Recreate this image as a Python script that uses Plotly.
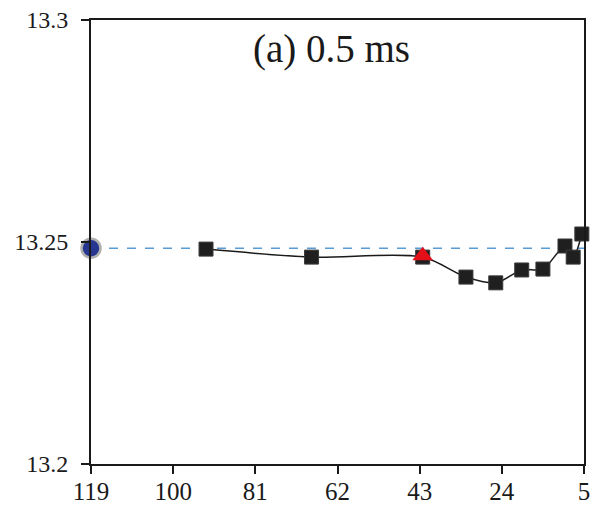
import plotly.graph_objects as go

# data
x_vals = [92.4, 68, 42.3, 32.3, 25.4, 19.4, 14.5, 9.4, 7.5, 5.5]
y_vals = [13.2484, 13.2466, 13.2466, 13.2421, 13.2408, 13.2437, 13.2439, 13.2491, 13.2466, 13.2518]
ref_x = 119
ref_y = 13.2486
hl_x = [42.3]
hl_y = [13.2469]
x_ticks = [119, 100, 81, 62, 43, 24, 5]
y_ticks = [13.2, 13.25, 13.3]
y_tick_text = ["13.2", "13.25", "13.3"]
title_text = "(a) 0.5 ms"

FONT = "Liberation Serif"
fig = go.Figure()

fig.add_trace(go.Scatter(
    x=[x_ticks[0], x_ticks[-1]], y=[ref_y, ref_y], mode="lines",
    line=dict(color="#5B9BD5", width=1.5, dash="dash"),
    hoverinfo="skip", showlegend=False, cliponaxis=False))

fig.add_trace(go.Scatter(
    x=x_vals, y=y_vals, mode="lines+markers",
    line=dict(color="#1a1a1a", width=1.5, shape="spline", smoothing=0.8),
    marker=dict(symbol="square", size=14, color="#1f1f1f",
                line=dict(color="#3a3a3a", width=1)),
    showlegend=False, cliponaxis=False))

fig.add_trace(go.Scatter(
    x=hl_x, y=hl_y, mode="markers",
    marker=dict(symbol="triangle-up", size=18, color="#E3101A",
                line=dict(color="#E3101A", width=0)),
    showlegend=False, cliponaxis=False))

fig.add_trace(go.Scatter(
    x=[ref_x], y=[ref_y], mode="markers",
    marker=dict(symbol="circle", size=19, color="#27378F",
                line=dict(color="#B0B0B0", width=2.5)),
    showlegend=False, cliponaxis=False))

fig.add_annotation(x=0.488, y=0.935, xref="paper", yref="paper",
                   text=title_text, showarrow=False,
                   font=dict(family=FONT, size=39, color="#1a1a1a"),
                   xanchor="center", yanchor="middle")

fig.update_xaxes(range=[119, 5], tickmode="array", tickvals=x_ticks,
                 ticktext=[str(v) for v in x_ticks],
                 showgrid=False, zeroline=False, showline=True,
                 linecolor="#1a1a1a", linewidth=2, mirror=True,
                 ticks="outside", ticklen=8, tickwidth=2, tickcolor="#1a1a1a",
                 automargin=False, ticklabelstandoff=-4,
                 tickfont=dict(family=FONT, size=25, color="#1a1a1a"))
fig.update_yaxes(range=[13.2, 13.3], tickmode="array", tickvals=y_ticks,
                 ticktext=y_tick_text,
                 showgrid=False, zeroline=False, showline=True,
                 linecolor="#1a1a1a", linewidth=2, mirror=True,
                 ticks="outside", ticklen=8, tickwidth=2, tickcolor="#1a1a1a",
                 automargin=False, ticklabelstandoff=8,
                 tickfont=dict(family=FONT, size=24, color="#1a1a1a"))

fig.update_layout(width=597, height=513,
                  margin=dict(l=91, r=13, t=20, b=49, autoexpand=False),
                  paper_bgcolor="white", plot_bgcolor="white")

fig.write_html("out.html", config={"displayModeBar": False},
               post_script="document.body.style.margin='0';document.body.style.overflow='hidden';")
